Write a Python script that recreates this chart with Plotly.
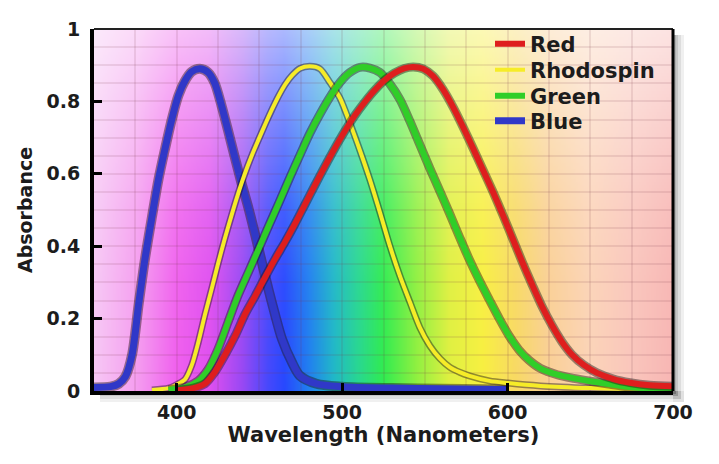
import base64, struct, zlib
import numpy as np
import plotly.graph_objects as go

# ---------------- data ----------------
blue_wl = [350, 360, 365, 369, 373, 377, 381, 385, 389, 393, 397, 401, 405, 409, 414,
           419, 423, 427, 431, 435, 439, 443.5, 447.5, 451.5, 455.5, 459.5, 463.6, 469.6,
           474.5, 484.5, 500, 530, 560, 600]
blue_abs = [0.01, 0.012, 0.02, 0.04, 0.10, 0.24, 0.37, 0.48, 0.585, 0.67, 0.75, 0.816, 0.857,
            0.882, 0.89, 0.88, 0.85, 0.79, 0.72, 0.648, 0.577, 0.503, 0.43, 0.355, 0.28,
            0.21, 0.144, 0.08, 0.042, 0.02, 0.012, 0.008, 0.006, 0.004]

rhodo_wl = [385, 395, 399, 405, 409, 413, 417, 421, 425, 429, 433, 437, 441, 445.5, 449.5,
            453.5, 457.5, 461.6, 465.6, 470, 474.5, 480.5, 486.6, 492.5, 498.6, 504.7, 510.7,
            516.8, 522.8, 528.9, 534.9, 541, 547, 553, 559, 565, 571, 577, 589, 600, 620,
            650, 680]
rhodo_abs = [0.003, 0.008, 0.015, 0.032, 0.07, 0.134, 0.21, 0.28, 0.352, 0.42, 0.483, 0.543,
             0.598, 0.652, 0.695, 0.737, 0.777, 0.815, 0.847, 0.873, 0.891, 0.897, 0.89, 0.853,
             0.81, 0.74, 0.665, 0.583, 0.494, 0.40, 0.318, 0.245, 0.175, 0.125, 0.09, 0.066,
             0.052, 0.042, 0.028, 0.022, 0.014, 0.008, 0.005]

green_wl = [395, 405, 413, 419, 425, 431, 437, 443.5, 449.5, 455.5, 461.6, 468.4, 474.5,
            480.5, 486.6, 492.6, 498.6, 504.7, 510.7, 516.8, 522.8, 528.9, 535, 541, 547, 553,
            559, 565, 571, 577, 583, 589, 595, 601, 607, 613, 620, 630, 640, 650, 660, 670,
            685, 700]
green_abs = [0.003, 0.01, 0.028, 0.06, 0.116, 0.19, 0.263, 0.33, 0.392, 0.455, 0.518, 0.59,
             0.652, 0.712, 0.765, 0.812, 0.852, 0.88, 0.894, 0.892, 0.88, 0.848, 0.805, 0.745,
             0.68, 0.615, 0.553, 0.49, 0.425, 0.362, 0.305, 0.252, 0.2, 0.152, 0.113, 0.085,
             0.062, 0.045, 0.035, 0.027, 0.02, 0.013, 0.007, 0.004]

red_wl = [400, 410, 417, 423, 429, 435.4, 441.4, 447.5, 453.5, 459.5, 465.5, 471.5, 477.5,
          483.5, 489.5, 495.5, 501.5, 507.5, 513.5, 519.5, 525.5, 531.5, 537.5, 543, 549,
          555, 561, 567, 573, 579, 585, 591, 597, 603, 609, 615, 621, 627, 633, 639,
          646, 654, 664, 674, 686, 700]
red_abs = [0.002, 0.008, 0.02, 0.052, 0.098, 0.153, 0.213, 0.263, 0.315, 0.365, 0.412, 0.462,
           0.515, 0.568, 0.62, 0.67, 0.717, 0.76, 0.797, 0.83, 0.858, 0.878, 0.891, 0.895,
           0.89, 0.87, 0.833, 0.785, 0.73, 0.672, 0.612, 0.552, 0.488, 0.422, 0.355, 0.292,
           0.232, 0.18, 0.135, 0.1, 0.072, 0.05, 0.033, 0.023, 0.016, 0.013]

draw_order = ["Blue", "Rhodospin", "Green", "Red"]      # bottom -> top
legend_order = ["Red", "Rhodospin", "Green", "Blue"]    # top -> bottom
x_range = [350, 700]
y_range = [0, 1]
x_title = "Wavelength (Nanometers)"
y_title = "Absorbance"

# ---------------- styles ----------------
FONT = "DejaVu Sans"
TXT = "#1c1c1c"
series_style = {
    "Blue": ("rgb(48,56,200)", 7),
    "Rhodospin": ("rgb(246,236,40)", 4),
    "Green": ("rgb(48,206,40)", 6),
    "Red": ("rgb(222,30,30)", 6),
}

# spectrum background (saturated colours at the bottom, whitened towards the top)
spec_stops = [
    (350, (247, 200, 245)), (375, (245, 160, 240)), (400, (240, 96, 238)),
    (420, (224, 80, 240)), (440, (152, 72, 244)), (455, (72, 72, 252)),
    (465, (40, 72, 255)), (480, (32, 128, 240)), (495, (32, 184, 200)),
    (510, (40, 216, 144)), (525, (48, 236, 80)), (545, (144, 240, 64)),
    (565, (224, 240, 64)), (585, (248, 240, 64)), (605, (248, 218, 100)),
    (625, (250, 208, 150)), (650, (252, 212, 184)), (675, (250, 198, 188)),
    (700, (248, 182, 180)),
]
white_stops = [(0.0, 0.0), (0.3, 0.03), (0.5, 0.12), (0.7, 0.3), (0.85, 0.45), (1.0, 0.62)]


def make_png(arr):
    h, w, _ = arr.shape
    raw = b"".join(b"\x00" + arr[i].tobytes() for i in range(h))

    def chunk(tag, data):
        return (struct.pack(">I", len(data)) + tag + data +
                struct.pack(">I", zlib.crc32(tag + data) & 0xFFFFFFFF))

    return (b"\x89PNG\r\n\x1a\n" +
            chunk(b"IHDR", struct.pack(">IIBBBBB", w, h, 8, 2, 0, 0, 0)) +
            chunk(b"IDAT", zlib.compress(raw, 9)) + chunk(b"IEND", b""))


W, H = 350, 120
wl = x_range[0] + (np.arange(W) + 0.5) * (x_range[1] - x_range[0]) / W
sw = np.array([s[0] for s in spec_stops], float)
sc = np.array([s[1] for s in spec_stops], float)
base = np.stack([np.interp(wl, sw, sc[:, k]) for k in range(3)], axis=1)  # W x 3
level = 1 - (np.arange(H) + 0.5) / H
alpha = np.interp(level, [s[0] for s in white_stops], [s[1] for s in white_stops])
img = base[None, :, :] * (1 - alpha[:, None, None]) + 255 * alpha[:, None, None]
img = np.clip(img, 0, 255).astype(np.uint8)
bg_uri = "data:image/png;base64," + base64.b64encode(make_png(img)).decode()

# ---------------- figure ----------------
ML, MR, MT, MB = 94, 46, 29, 73
FW, FH = 719, 464
pw, ph = FW - ML - MR, FH - MT - MB

fig = go.Figure()
data = {
    "Blue": (blue_wl, blue_abs),
    "Rhodospin": (rhodo_wl, rhodo_abs),
    "Green": (green_wl, green_abs),
    "Red": (red_wl, red_abs),
}
legend_ids = ["legend", "legend2", "legend3", "legend4"]
for name in draw_order:
    xs, ys = data[name]
    col, w = series_style[name]
    fig.add_trace(go.Scatter(x=xs, y=ys, mode="lines", showlegend=False, hoverinfo="skip",
                             line=dict(color="rgba(30,20,20,0.45)", width=w + 3,
                                       shape="spline", smoothing=0.8)))
    fig.add_trace(go.Scatter(x=xs, y=ys, mode="lines", name=name,
                             legend=legend_ids[legend_order.index(name)],
                             line=dict(color=col, width=w, shape="spline", smoothing=0.8)))

grid_col = "rgba(120,60,70,0.12)"
axis_common = dict(
    showline=True, linecolor="black", linewidth=4,
    ticks="inside", ticklen=8, tickwidth=3, tickcolor="black",
    showgrid=True, gridcolor=grid_col, gridwidth=2, zeroline=False,
    tickfont=dict(family=FONT, size=19, color=TXT, weight="bold"),
)
fig.update_xaxes(range=x_range, dtick=100, tick0=0,
                 minor=dict(dtick=25, showgrid=True, gridcolor=grid_col, gridwidth=2, ticks=""),
                 title=dict(text=x_title, standoff=6,
                            font=dict(family=FONT, size=21, color=TXT, weight="bold")),
                 ticklabelstandoff=1, **axis_common)
fig.update_yaxes(range=y_range, dtick=0.2, tick0=0,
                 minor=dict(dtick=0.05, showgrid=True, gridcolor=grid_col, gridwidth=2, ticks=""),
                 title=dict(text=y_title, standoff=10,
                            font=dict(family=FONT, size=19, color=TXT, weight="bold")),
                 ticklabelstandoff=6, **axis_common)

shapes = []
# soft drop shadow on the right and bottom of the plotting area
for k, a in [(11, 0.06), (8, 0.08), (5, 0.1), (3, 0.12)]:
    shapes.append(dict(type="rect", xref="paper", yref="paper", layer="below",
                       x0=1, x1=1 + k / pw, y0=-k / ph, y1=1 - 6 / ph,
                       fillcolor=f"rgba(0,0,0,{a})", line=dict(width=0)))
    shapes.append(dict(type="rect", xref="paper", yref="paper", layer="below",
                       x0=6 / pw, x1=1 + k / pw, y0=-k / ph, y1=0,
                       fillcolor=f"rgba(0,0,0,{a})", line=dict(width=0)))
shapes.append(dict(type="line", xref="paper", yref="paper", x0=0, x1=1, y0=1, y1=1,
                   line=dict(color="#222", width=2)))
shapes.append(dict(type="line", xref="paper", yref="paper", x0=1, x1=1, y0=0, y1=1,
                   line=dict(color="black", width=3)))

# one single-entry legend per series, stacked at the reference row spacing
legend_rows_px = [44, 70, 96, 121]
legend_left_px = 490
legend_font = dict(family=FONT, size=21, color=TXT, weight="bold")
legends = {}
for lid, row in zip(legend_ids, legend_rows_px):
    legends[lid] = dict(x=(legend_left_px - ML) / pw, y=(FH - MB - row) / ph,
                        xanchor="left", yanchor="middle",
                        bgcolor="rgba(0,0,0,0)", borderwidth=0, font=legend_font)

fig.update_layout(
    width=FW, height=FH,
    margin=dict(l=ML, r=MR, t=MT, b=MB),
    paper_bgcolor="white", plot_bgcolor="white",
    images=[dict(source=bg_uri, xref="x", yref="y", x=x_range[0], y=y_range[1],
                 sizex=x_range[1] - x_range[0], sizey=y_range[1] - y_range[0],
                 sizing="stretch", xanchor="left", yanchor="top", layer="below")],
    shapes=shapes,
    showlegend=True,
    **legends,
)

fig.write_html("out.html", config={"displayModeBar": False},
               post_script="document.body.style.margin='0px';")
